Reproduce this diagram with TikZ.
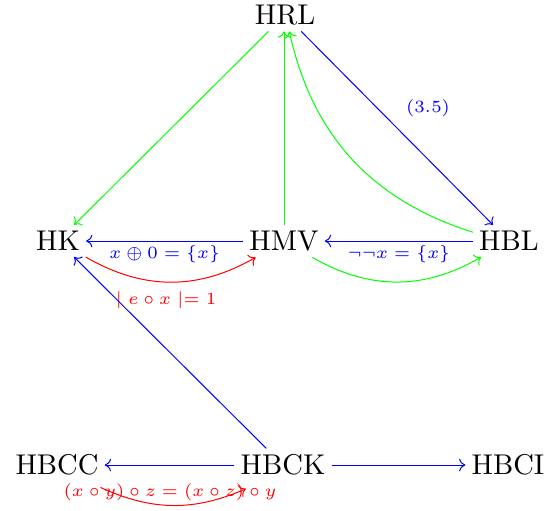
\documentclass[tikz,border=0pt]{standalone}
\usetikzlibrary{arrows.meta}
\begin{document}
\begin{tikzpicture}[x=0.35pt,y=-0.35pt,
  obj/.style={inner sep=2pt},
  ar/.style={-{To[length=2.2pt,width=4.4pt]}, line width=0.35pt},
  lbl/.style={font=\fontsize{6}{7}\selectfont, inner sep=1.5pt}]
\useasboundingbox (0,0) rectangle (546,510);
\node[obj] (HRL) at (285,15) {HRL};
\node[obj] (HK) at (58,241) {HK};
\node[obj] (HMV) at (284,241) {HMV};
\node[obj] (HBL) at (509,241) {HBL};
\node[obj] (HBCC) at (57,465) {HBCC};
\node[obj] (HBCK) at (283,465) {HBCK};
\node[obj] (HBCI) at (508,465) {HBCI};

\draw[ar, green] (HRL) -- (HK);
\draw[ar, blue] (HRL) -- (HBL);
\node[lbl, text=blue, font=\fontsize{5.6}{7}\selectfont] (l35) at (428,108) {$(3.5)$};
\draw[ar, green] (HMV) -- (HMV|-HRL.south);
\draw[ar, green] (HBL) to[bend left=30] ([xshift=1.5pt]HRL.south);

\draw[ar, blue] (HMV) -- node[lbl, below, text=blue] {$x \oplus 0 = \{x\}$} (HK);
\draw[ar, red] (HK) to[bend right=30] (HMV);
\node[lbl, text=red] (lex) at (166,300) {$\mid e \circ x \mid = 1$};
\draw[ar, blue] (HBL) -- node[lbl, below, text=blue] {$\neg\neg x = \{x\}$} (HMV);
\draw[ar, green] (HMV) to[bend right=30] (HBL);

\draw[ar, blue] (HBCK) -- (HK);
\draw[ar, blue] (HBCK) -- (HBCC);
\draw[ar, blue] (HBCK) -- (HBCI);
\draw[ar, red] ([xshift=-1.5pt,yshift=-2pt]HBCC.south east) to[bend right=24] ([xshift=4pt,yshift=-2.5pt]HBCK.south west);
\node[lbl, text=red] (lxyz) at (170,492) {$(x \circ y) \circ z = (x \circ z) \circ y$};
\end{tikzpicture}
\end{document}
